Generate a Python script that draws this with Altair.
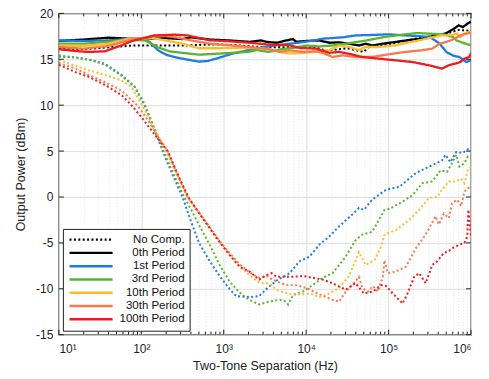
import altair as alt
import pandas as pd

# ---- data: (log10 of two-tone separation in Hz, output power in dBm) ----
NC_0TH = [(1.0, 16.2), (1.3, 16.1), (1.6, 16.3), (1.9, 16.5), (2.2, 16.5), (2.5, 16.5), (2.8, 16.6),
          (3.0, 16.6), (3.2, 16.5), (3.5, 16.3), (3.8, 16.3), (4.0, 16.3), (4.15, 16.2), (4.25, 15.9),
          (4.3, 16.0), (4.4, 16.1), (4.5, 16.2), (4.6, 16.0), (4.7, 15.8), (4.75, 16.3), (4.9, 16.5),
          (5.1, 16.8), (5.3, 17.2), (5.5, 17.5), (5.7, 17.8), (5.85, 18.2), (6.0, 18.1)]
NC_1ST = [(1.0, 15.3), (1.2, 15.2), (1.4, 14.9), (1.56, 14.5), (1.76, 13.3), (1.92, 12.0), (2.04, 10.0),
          (2.15, 7.5), (2.26, 5.0), (2.38, 2.4), (2.5, 0.0), (2.6, -2.6), (2.7, -5.0), (2.83, -7.0),
          (2.95, -8.6), (3.07, -10.0), (3.15, -10.8), (3.31, -10.9), (3.43, -10.8), (3.52, -10.0),
          (3.64, -9.1), (3.8, -8.3), (3.92, -7.0), (4.04, -6.5), (4.16, -5.2), (4.28, -4.3), (4.4, -3.2),
          (4.55, -2.0), (4.64, -1.2), (4.7, -1.4), (4.8, -0.3), (4.97, 0.8), (5.13, 1.1), (5.33, 2.6),
          (5.49, 3.3), (5.65, 4.0), (5.69, 4.6), (5.75, 3.8), (5.82, 4.9), (5.9, 4.8), (5.96, 5.2), (6.0, 5.1)]
NC_3RD = [(1.0, 15.4), (1.2, 15.2), (1.4, 14.9), (1.56, 14.4), (1.76, 13.2), (1.92, 12.0), (2.04, 10.1),
          (2.15, 7.7), (2.27, 5.0), (2.39, 2.5), (2.52, 0.0), (2.6, -1.3), (2.71, -3.2), (2.83, -5.2),
          (2.95, -7.4), (3.07, -9.2), (3.19, -10.4), (3.31, -11.2), (3.43, -11.7), (3.55, -11.4),
          (3.68, -11.2), (3.76, -11.4), (3.78, -11.7), (3.84, -10.7), (3.96, -10.3), (4.08, -9.6),
          (4.2, -8.8), (4.32, -8.3), (4.48, -6.5), (4.6, -4.7), (4.68, -4.1), (4.8, -3.8), (4.87, -2.7),
          (4.95, -1.4), (5.01, -1.3), (5.17, -0.5), (5.29, 0.2), (5.41, 1.5), (5.53, 1.7), (5.63, 2.9),
          (5.71, 2.75), (5.77, 3.7), (5.82, 4.6), (5.86, 3.3), (5.92, 3.7), (5.96, 4.4), (6.0, 4.2)]
NC_10TH = [(1.0, 14.9), (1.2, 14.3), (1.36, 13.8), (1.56, 13.3), (1.76, 12.7), (1.88, 12.0), (2.01, 10.0),
           (2.15, 7.6), (2.3, 5.0), (2.43, 2.4), (2.56, 0.0), (2.71, -1.8), (2.83, -3.4), (2.95, -5.0),
           (3.07, -6.3), (3.19, -7.5), (3.31, -8.5), (3.43, -9.3), (3.47, -9.4), (3.55, -9.4),
           (3.64, -10.1), (3.8, -10.6), (3.92, -10.6), (4.04, -10.5), (4.16, -10.9), (4.24, -10.7),
           (4.4, -9.9), (4.52, -8.6), (4.6, -6.9), (4.64, -6.0), (4.72, -7.4), (4.83, -6.9), (4.91, -5.4),
           (4.95, -4.1), (5.09, -3.6), (5.25, -2.5), (5.37, -1.4), (5.49, -0.1), (5.59, 0.0), (5.65, 0.8),
           (5.73, 1.7), (5.82, 1.7), (5.88, 2.0), (5.92, 1.5), (5.96, 2.9), (6.0, 3.3)]
NC_30TH = [(1.0, 14.6), (1.2, 14.0), (1.36, 13.3), (1.56, 12.5), (1.76, 11.6), (1.96, 9.9), (2.07, 8.5),
           (2.2, 6.6), (2.32, 5.0), (2.44, 2.4), (2.56, 0.0), (2.71, -1.8), (2.83, -3.3), (2.95, -4.8),
           (3.07, -6.1), (3.19, -7.3), (3.31, -8.2), (3.43, -8.8), (3.52, -8.6), (3.59, -9.0),
           (3.76, -9.6), (3.88, -9.6), (4.0, -9.9), (4.16, -10.6), (4.32, -11.2), (4.4, -11.4),
           (4.48, -10.3), (4.56, -9.6), (4.64, -8.7), (4.68, -9.9), (4.75, -10.3), (4.81, -9.7),
           (4.87, -10.3), (4.93, -8.7), (4.95, -6.9), (4.99, -8.3), (5.09, -8.1), (5.21, -7.6),
           (5.33, -5.6), (5.45, -4.1), (5.57, -2.1), (5.61, -3.0), (5.67, -1.8), (5.73, -2.3),
           (5.77, -0.7), (5.83, -0.3), (5.88, -1.0), (5.92, 0.6), (5.96, 0.95), (6.0, 1.1)]
NC_100TH = [(1.0, 14.4), (1.2, 13.6), (1.36, 13.1), (1.56, 12.2), (1.76, 11.1), (1.88, 10.0), (2.0, 8.7),
            (2.12, 7.3), (2.24, 5.9), (2.32, 5.0), (2.44, 2.5), (2.57, 0.0), (2.71, -1.9), (2.83, -3.4),
            (2.95, -4.9), (3.07, -6.3), (3.19, -7.6), (3.31, -8.1), (3.43, -9.0), (3.47, -8.8),
            (3.52, -8.5), (3.58, -8.3), (3.64, -8.7), (3.72, -8.7), (3.84, -8.7), (3.96, -8.6),
            (4.08, -8.8), (4.2, -9.0), (4.32, -9.4), (4.48, -10.1), (4.56, -9.6), (4.6, -9.4),
            (4.7, -10.5), (4.81, -10.3), (4.91, -9.6), (4.97, -9.7), (5.05, -10.5), (5.17, -11.6),
            (5.23, -10.5), (5.31, -8.7), (5.37, -8.3), (5.45, -9.4), (5.53, -7.4), (5.59, -7.0),
            (5.67, -6.1), (5.73, -5.9), (5.77, -5.6), (5.86, -5.2), (5.92, -5.0), (5.955, -4.3),
            (5.967, -1.4), (5.983, -2.8), (6.0, -4.3)]

P_0TH = [(1.0, 17.0), (1.3, 17.15), (1.6, 17.35), (1.85, 17.25), (2.05, 17.25), (2.3, 17.3), (2.5, 17.2),
         (2.6, 17.4), (2.83, 17.15), (3.07, 17.05), (3.31, 16.9), (3.45, 17.05), (3.52, 16.9), (3.64, 16.8),
         (3.76, 17.05), (3.84, 17.2), (3.88, 16.9), (4.0, 17.0), (4.16, 17.05), (4.28, 16.8), (4.4, 16.85),
         (4.52, 16.7), (4.64, 16.5), (4.72, 16.7), (4.8, 16.5), (4.93, 16.7), (5.09, 16.9), (5.25, 17.1),
         (5.41, 17.25), (5.57, 17.6), (5.69, 17.8), (5.79, 18.3), (5.85, 18.7), (5.9, 18.5), (5.96, 18.9),
         (6.0, 19.1)]
P_1ST = [(1.0, 17.05), (1.3, 17.0), (1.6, 17.05), (1.85, 17.25), (2.0, 17.25), (2.1, 16.9), (2.2, 16.0),
         (2.3, 15.5), (2.45, 15.15), (2.6, 14.9), (2.7, 14.75), (2.8, 14.8), (2.9, 15.05), (3.1, 15.6),
         (3.3, 16.0), (3.5, 16.35), (3.7, 16.6), (3.9, 16.8), (4.1, 17.05), (4.2, 17.25), (4.3, 17.3),
         (4.45, 17.4), (4.6, 17.6), (4.8, 17.65), (5.0, 17.72), (5.2, 17.6), (5.4, 17.5), (5.5, 17.43),
         (5.62, 16.7), (5.7, 15.8), (5.78, 15.4), (5.86, 15.25), (5.94, 14.7), (6.0, 14.9)]
P_3RD = [(1.0, 16.7), (1.3, 16.7), (1.6, 16.9), (1.85, 17.15), (2.05, 17.05), (2.2, 16.3), (2.35, 15.85),
         (2.5, 15.7), (2.7, 15.5), (2.9, 15.6), (3.1, 15.7), (3.3, 15.8), (3.4, 16.0), (3.55, 15.8),
         (3.7, 16.1), (3.85, 16.25), (4.0, 16.5), (4.16, 16.4), (4.32, 16.5), (4.48, 16.7), (4.7, 17.0),
         (4.95, 17.43), (5.2, 17.72), (5.35, 17.86), (5.5, 17.79), (5.66, 17.72), (5.78, 17.43),
         (5.82, 17.07), (5.9, 16.8), (6.0, 16.52)]
P_10TH = [(1.0, 16.5), (1.3, 16.45), (1.6, 16.7), (1.85, 17.25), (2.15, 17.3), (2.35, 16.96), (2.5, 16.7),
          (2.7, 16.2), (2.95, 16.2), (3.2, 16.23), (3.45, 16.23), (3.6, 16.0), (3.76, 15.65), (3.9, 15.65),
          (4.1, 15.8), (4.2, 15.95), (4.28, 15.98), (4.4, 16.5), (4.52, 16.34), (4.64, 16.0), (4.72, 16.34),
          (4.87, 16.34), (5.07, 16.5), (5.27, 16.88), (5.47, 17.25), (5.63, 17.6), (5.75, 17.6),
          (5.83, 17.8), (5.87, 17.4), (5.92, 17.8), (6.0, 18.0)]
P_30TH = [(1.0, 16.35), (1.3, 16.15), (1.6, 16.45), (1.85, 17.07), (2.15, 17.55), (2.35, 17.5), (2.5, 17.25),
          (2.6, 17.07), (2.83, 16.7), (3.07, 16.52), (3.31, 16.34), (3.55, 16.09), (3.68, 15.8), (3.8, 15.98),
          (3.96, 15.8), (4.12, 15.87), (4.2, 15.7), (4.32, 15.25), (4.44, 15.43), (4.6, 15.25), (4.8, 15.25),
          (5.0, 15.54), (5.2, 15.8), (5.4, 15.98), (5.53, 16.16), (5.62, 16.7), (5.7, 16.88), (5.79, 17.2),
          (5.87, 17.6), (6.0, 17.9)]
P_100TH = [(1.0, 16.1), (1.2, 15.9), (1.36, 15.8), (1.56, 15.87), (1.76, 16.52), (1.88, 16.96), (2.16, 17.6),
           (2.4, 17.68), (2.56, 17.6), (2.83, 17.07), (3.07, 16.96), (3.31, 16.8), (3.55, 16.6), (3.8, 16.52),
           (3.92, 16.23), (4.12, 16.16), (4.28, 15.7), (4.4, 15.8), (4.52, 15.6), (4.68, 15.25), (4.88, 15.07),
           (5.08, 14.89), (5.29, 14.7), (5.49, 14.35), (5.65, 13.99), (5.73, 14.35), (5.81, 14.53),
           (5.87, 14.7), (5.92, 15.07), (5.98, 15.25), (6.0, 15.7)]

PERIODS = ["0th Period", "1st Period", "3rd Period", "10th Period", "30th Period", "100th Period"]
LEGEND_LABELS = ["No Comp."] + PERIODS
PERIOD_COLORS = ["#000000", "#1f7be0", "#5bb431", "#f9be2c", "#f7794c", "#ee1d1d"]
NO_COMP = [NC_0TH, NC_1ST, NC_3RD, NC_10TH, NC_30TH, NC_100TH]
WITH_COMP = [P_0TH, P_1ST, P_3RD, P_10TH, P_30TH, P_100TH]

DECADES = [10, 100, 1000, 10000, 100000, 1000000]
DECADE_LABELS = ["10¹", "10²", "10³", "10⁴", "10⁵", "10⁶"]
MINOR_TICKS = [m * d for d in DECADES[:-1] for m in range(2, 10)]
Y_TICKS = [-15, -10, -5, 0, 5, 10, 15, 20]

W, H = 413, 322
FONT = "Liberation Sans"

rows_dot, rows_solid = [], []
for name, pts in zip(PERIODS, NO_COMP):
    for i, (lf, v) in enumerate(pts):
        rows_dot.append({"f": 10 ** lf, "db": v, "series": name, "i": i})
for name, pts in zip(PERIODS, WITH_COMP):
    for i, (lf, v) in enumerate(pts):
        rows_solid.append({"f": 10 ** lf, "db": v, "series": name, "i": i})
df_dot = pd.DataFrame(rows_dot)
df_solid = pd.DataFrame(rows_solid)
df_major = pd.DataFrame({"f": DECADES})
df_minor = pd.DataFrame({"f": MINOR_TICKS})
df_y = pd.DataFrame({"db": Y_TICKS})

is_major = "indexof([10,100,1000,10000,100000,1000000], datum.value) >= 0"
label_expr = " : ".join(f"datum.value == {d} ? '{l}'" for d, l in zip(DECADES, DECADE_LABELS)) + " : ''"

x_scale = alt.Scale(type="log", domain=[10, 1000000], nice=False)
y_scale = alt.Scale(domain=[-15, 20], nice=False, zero=False)

x_axis = alt.Axis(
    values=sorted(DECADES + MINOR_TICKS), labelExpr=label_expr, labelOverlap=False,
    title="Two-Tone Separation (Hz)", ticks=False, domain=False, labelPadding=9,
    labelFontSize=12, titleFontSize=12.5, titleFontWeight="normal", titlePadding=5,
    gridColor={"condition": {"test": is_major, "value": "#dedede"}, "value": "#e4e4e4"},
    gridDash={"condition": {"test": is_major, "value": []}, "value": [1, 2]},
    labelColor="#222", titleColor="#222",
)
y_axis = alt.Axis(
    values=Y_TICKS, labelExpr="'' + datum.value", title="Output Power (dBm)", ticks=False,
    domain=False, labelPadding=6, labelFontSize=12, titleFontSize=12.5, titleFontWeight="normal",
    titlePadding=8, gridColor="#dedede", labelColor="#222", titleColor="#222",
)

X = alt.X("f:Q", scale=x_scale, axis=x_axis)
Y = alt.Y("db:Q", scale=y_scale, axis=y_axis)

dotted = alt.Chart(df_dot).mark_line(strokeWidth=2, strokeDash=[2, 2.4], clip=True).encode(
    x=X, y=Y,
    color=alt.Color("series:N", scale=alt.Scale(domain=PERIODS, range=PERIOD_COLORS), legend=None),
    detail="series:N", order="i:Q",
)

legend = alt.Legend(
    title=None, orient="bottom-left", offset=4, symbolType="M-5.4,0H5.4", symbolSize=64,
    symbolOffset=17.5, symbolStrokeWidth=2.4, labelAlign="right", labelOffset=88,
    labelFontSize=11.5, rowPadding=0.3, padding=5,
)
solid = alt.Chart(df_solid).mark_line(strokeWidth=2.3, clip=True).encode(
    x=alt.X("f:Q", scale=x_scale), y=alt.Y("db:Q", scale=y_scale),
    color=alt.Color("series:N", scale=alt.Scale(domain=LEGEND_LABELS, range=["#000000"] + PERIOD_COLORS),
                    legend=legend),
    strokeDash=alt.StrokeDash("series:N", scale=alt.Scale(domain=LEGEND_LABELS,
                              range=[[2, 2.4]] + [[1, 0]] * 6), legend=legend),
    detail="series:N", order="i:Q",
)

tick_color = "#222"
major_b = alt.Chart(df_major).mark_rule(color=tick_color, strokeWidth=1).encode(
    x=alt.X("f:Q", scale=x_scale), y=alt.value(H), y2=alt.value(H - 5))
major_t = alt.Chart(df_major).mark_rule(color=tick_color, strokeWidth=1).encode(
    x=alt.X("f:Q", scale=x_scale), y=alt.value(0), y2=alt.value(5))
minor_b = alt.Chart(df_minor).mark_rule(color=tick_color, strokeWidth=1).encode(
    x=alt.X("f:Q", scale=x_scale), y=alt.value(H), y2=alt.value(H - 3))
minor_t = alt.Chart(df_minor).mark_rule(color=tick_color, strokeWidth=1).encode(
    x=alt.X("f:Q", scale=x_scale), y=alt.value(0), y2=alt.value(3))
ytick_l = alt.Chart(df_y).mark_rule(color=tick_color, strokeWidth=1).encode(
    y=alt.Y("db:Q", scale=y_scale), x=alt.value(0), x2=alt.value(5))
ytick_r = alt.Chart(df_y).mark_rule(color=tick_color, strokeWidth=1).encode(
    y=alt.Y("db:Q", scale=y_scale), x=alt.value(W - 5), x2=alt.value(W))

chart = alt.layer(dotted, solid, major_b, major_t, minor_b, minor_t, ytick_l, ytick_r).resolve_scale(
    color="independent", strokeDash="independent"
).properties(
    width=W, height=H,
    autosize=alt.AutoSizeParams(type="none"),
    padding={"left": 51, "top": 5, "right": 10, "bottom": 42},
).configure(font=FONT).configure_view(
    stroke="#222", strokeWidth=1.3
).configure_legend(
    labelColor="#111", strokeColor="#222", fillColor="white", cornerRadius=0,
)

chart.save("out.html", embed_options={"renderer": "svg", "actions": False})
